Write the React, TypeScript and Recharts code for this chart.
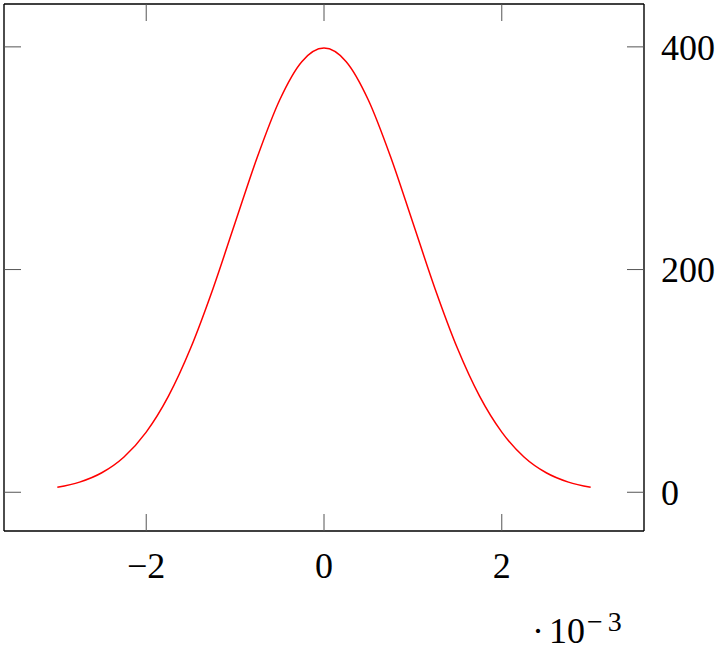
import React from 'react';
import { LineChart, Line, XAxis, YAxis } from 'recharts';

// x values in units of 10^-3
const xValues = [
  -3, -2.75, -2.5, -2.25, -2, -1.75, -1.5, -1.25, -1, -0.75, -0.5, -0.25, 0,
  0.25, 0.5, 0.75, 1, 1.25, 1.5, 1.75, 2, 2.25, 2.5, 2.75, 3,
];
const yValues = [
  4.4, 9.1, 17.5, 31.7, 54, 86.3, 129.5, 182.6, 242, 301.1, 352.1, 386.7, 398.9,
  386.7, 352.1, 301.1, 242, 182.6, 129.5, 86.3, 54, 31.7, 17.5, 9.1, 4.4,
];
const xTicks = [-2, 0, 2];
const yTicks = [0, 200, 400];

const data = xValues.map((x, i) => ({ x, y: yValues[i] }));

const X_DOMAIN: [number, number] = [-3.6, 3.6];
const Y_DOMAIN: [number, number] = [-34.8, 438.5];
const FONT = 'Liberation Serif, DejaVu Serif, serif';

const fmtX = (v: number) => (v < 0 ? `\u2212${Math.abs(v)}` : `${v}`);
const NoTick = () => <g />;

const ScaleLabel = (props: any) => {
  const vb = props.viewBox || {};
  return (
    <text
      x={vb.x + vb.width - 112}
      y={vb.y + vb.height - 8}
      textAnchor="start"
      style={{ fontFamily: FONT }}
      fontSize={36}
      fill="#000"
    >
      <tspan>{'\u00b7'}</tspan>
      <tspan dx={5}>10</tspan>
      <tspan dx={2} dy={-12} fontSize={28}>{'\u2212'}</tspan>
      <tspan dx={5} fontSize={28}>3</tspan>
    </text>
  );
};

export default function App() {
  const tickLine = { stroke: '#555', strokeWidth: 1 };
  const axisLine = { stroke: '#000', strokeWidth: 1.4 };
  const tickText = { fill: '#000', fontSize: 36, style: { fontFamily: FONT } };
  return (
    <div style={{ width: 725, height: 651 }}>
      <style>{'body{margin:0}'}</style>
      <LineChart width={725} height={651} data={data} margin={{ top: 4, left: 4, right: 0, bottom: 0 }}>
        {/* bottom axis: labels */}
        <XAxis
          xAxisId="b"
          dataKey="x"
          type="number"
          domain={X_DOMAIN}
          allowDataOverflow
          ticks={xTicks}
          tickFormatter={fmtX}
          height={120}
          tickLine={false}
          tickSize={0}
          tickMargin={21}
          axisLine={axisLine}
          tick={tickText}
          label={<ScaleLabel />}
        />
        {/* bottom axis: inner tick marks */}
        <XAxis
          xAxisId="bm"
          dataKey="x"
          type="number"
          domain={X_DOMAIN}
          allowDataOverflow
          ticks={xTicks}
          mirror
          height={1}
          tick={NoTick}
          tickSize={17}
          tickLine={tickLine}
          axisLine={false}
        />
        {/* top border with inner ticks */}
        <XAxis
          xAxisId="t"
          orientation="top"
          dataKey="x"
          type="number"
          domain={X_DOMAIN}
          allowDataOverflow
          ticks={xTicks}
          mirror
          height={1}
          tick={NoTick}
          tickSize={17}
          tickLine={tickLine}
          axisLine={axisLine}
        />
        {/* right axis: labels */}
        <YAxis
          yAxisId="r"
          orientation="right"
          type="number"
          domain={Y_DOMAIN}
          allowDataOverflow
          ticks={yTicks}
          width={81}
          tickLine={false}
          tickSize={0}
          tickMargin={17}
          axisLine={axisLine}
          tick={tickText}
        />
        {/* right axis: inner tick marks */}
        <YAxis
          yAxisId="rm"
          orientation="right"
          type="number"
          domain={Y_DOMAIN}
          allowDataOverflow
          ticks={yTicks}
          mirror
          width={1}
          tick={NoTick}
          tickSize={17}
          tickLine={tickLine}
          axisLine={false}
        />
        {/* left border with inner ticks */}
        <YAxis
          yAxisId="l"
          orientation="left"
          type="number"
          domain={Y_DOMAIN}
          allowDataOverflow
          ticks={yTicks}
          mirror
          width={1}
          tick={NoTick}
          tickSize={17}
          tickLine={tickLine}
          axisLine={axisLine}
        />
        <Line
          xAxisId="b"
          yAxisId="r"
          type="monotone"
          dataKey="y"
          stroke="#ff0000"
          strokeWidth={1.5}
          dot={false}
          isAnimationActive={false}
        />
      </LineChart>
    </div>
  );
}
